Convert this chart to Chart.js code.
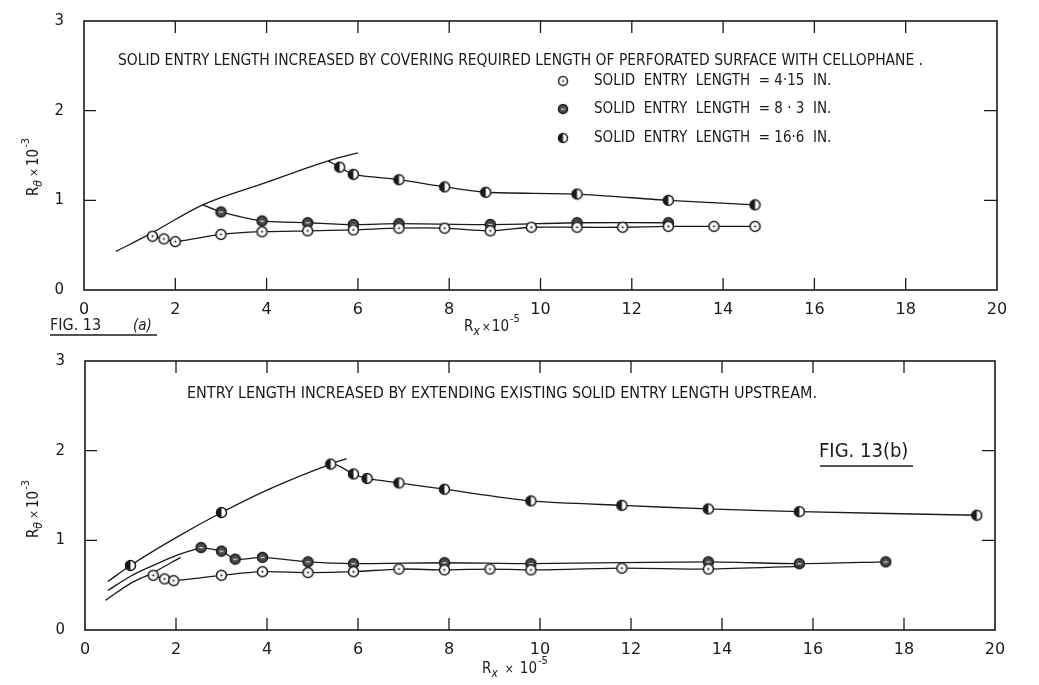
<!DOCTYPE html>
<html>
<head>
<meta charset="utf-8">
<script src="https://cdn.jsdelivr.net/npm/chart.js@4.4.1/dist/chart.umd.min.js"></script>
<style>
  html, body { margin: 0; padding: 0; background: #fff; }
  #wrap { position: relative; width: 1039px; height: 685px; }
  .panel { position: absolute; left: 0; width: 1039px; }
</style>
</head>
<body>
<div id="wrap">
  <div class="panel" style="top:0;height:340px"><canvas id="figA"></canvas></div>
  <div class="panel" style="top:340px;height:345px"><canvas id="figB"></canvas></div>
</div>
<script>
// ---- Fig 13(a): entry length increased by covering with cellophane ----
const aEnvX = [0.7, 1.5, 2.6, 4.0, 5.35, 6.0];
const aEnvY = [0.43, 0.64, 0.95, 1.20, 1.44, 1.53];
const a415X = [1.5, 1.75, 2.0, 3.0, 3.9, 4.9, 5.9, 6.9, 7.9, 8.9, 9.8, 10.8, 11.8, 12.8, 13.8, 14.7];
const a415Y = [0.60, 0.57, 0.54, 0.62, 0.65, 0.66, 0.67, 0.69, 0.69, 0.66, 0.70, 0.70, 0.70, 0.71, 0.71, 0.71];
const a83X = [2.6, 3.0, 3.9, 4.9, 5.9, 6.9, 8.9, 10.8, 12.8];
const a83Y = [0.95, 0.87, 0.77, 0.75, 0.73, 0.74, 0.73, 0.75, 0.75];
const a166X = [5.35, 5.6, 5.9, 6.9, 7.9, 8.8, 10.8, 12.8, 14.7];
const a166Y = [1.44, 1.37, 1.29, 1.23, 1.15, 1.09, 1.07, 1.00, 0.95];

// ---- Fig 13(b): entry length increased by extending solid length upstream ----
const bEnvX = [0.5, 1.0, 2.0, 3.0, 4.0, 5.4, 5.75];
const bEnvY = [0.54, 0.72, 1.03, 1.31, 1.56, 1.85, 1.91];
const bMidX = [0.5, 1.0, 1.5, 2.0, 2.55];
const bMidY = [0.44, 0.60, 0.72, 0.83, 0.92];
const bLowX = [0.45, 1.0, 1.5, 2.1];
const bLowY = [0.33, 0.52, 0.64, 0.81];
const b415X = [1.5, 1.75, 1.95, 3.0, 3.9, 4.9, 5.9, 6.9, 7.9, 8.9, 9.8, 11.8, 13.7, 15.7];
const b415Y = [0.61, 0.57, 0.55, 0.61, 0.65, 0.64, 0.65, 0.68, 0.67, 0.68, 0.67, 0.69, 0.68, 0.71];
const b83X = [2.55, 3.0, 3.3, 3.9, 4.9, 5.9, 7.9, 9.8, 13.7, 15.7, 17.6];
const b83Y = [0.92, 0.88, 0.79, 0.81, 0.76, 0.74, 0.75, 0.74, 0.76, 0.74, 0.76];
const b166X = [1.0, 3.0, 5.4, 5.9, 6.2, 6.9, 7.9, 9.8, 11.8, 13.7, 15.7, 19.6];
const b166Y = [0.72, 1.31, 1.85, 1.74, 1.69, 1.64, 1.57, 1.44, 1.39, 1.35, 1.32, 1.28];

const xTicks = [0, 2, 4, 6, 8, 10, 12, 14, 16, 18, 20];
const yTickLabels = ['0', '1', '2', '3'];
const legendLabels = [
    'SOLID  ENTRY  LENGTH  = 4·15  IN.',
    'SOLID  ENTRY  LENGTH  = 8 · 3  IN.',
    'SOLID  ENTRY  LENGTH  = 16·6  IN.'
];

const INK = '#1a1a1a';
const LETTER = "'Liberation Sans Narrow','DejaVu Sans Condensed','DejaVu Sans',sans-serif";
const DIGIT = "'DejaVu Sans',sans-serif";

// little hand-drawn looking markers
function makeMarker(kind) {
    const c = document.createElement('canvas');
    c.width = 13; c.height = 13;
    const g = c.getContext('2d');
    g.beginPath();
    g.arc(6.5, 6.5, 5, 0, Math.PI * 2);
    g.fillStyle = kind === 'dark' ? '#4a4a4a' : '#fff';
    g.fill();
    if (kind === 'half') {
        g.beginPath();
        g.arc(6.5, 6.5, 5, Math.PI / 2, Math.PI * 1.5);
        g.closePath();
        g.fillStyle = INK;
        g.fill();
    }
    g.beginPath();
    g.arc(6.5, 6.5, 5, 0, Math.PI * 2);
    g.lineWidth = 1.5;
    g.strokeStyle = INK;
    g.stroke();
    if (kind === 'dot') {
        g.beginPath();
        g.arc(6.5, 6.5, 1.1, 0, Math.PI * 2);
        g.fillStyle = INK;
        g.fill();
    }
    if (kind === 'dark') {
        g.fillStyle = '#ddd';
        g.fillRect(4.5, 6, 4, 1.2);
    }
    return c;
}
const mkOpen = makeMarker('dot');
const mkDark = makeMarker('dark');
const mkHalf = makeMarker('half');

function pts(xs, ys) {
    return xs.map((x, i) => ({ x: x, y: ys[i] }));
}

function curve(xs, ys) {
    return {
        data: pts(xs, ys),
        borderColor: INK,
        borderWidth: 1.3,
        pointRadius: 0,
        cubicInterpolationMode: 'monotone',
        order: 2
    };
}

// series with markers; noMark lists indexes drawn without a marker,
// lineFrom hides the line before that index
function series(xs, ys, marker, noMark, lineFrom) {
    return {
        data: pts(xs, ys),
        borderColor: INK,
        borderWidth: 1.3,
        pointStyle: marker,
        pointRadius: xs.map((x, i) => noMark.includes(i) ? 0 : 6),
        tension: 0.25,
        segment: {
            borderColor: ctx => ctx.p0DataIndex < lineFrom ? 'rgba(0,0,0,0)' : INK
        },
        order: 1
    };
}

function text(ctx, s, x, y, font, maxW, align) {
    ctx.font = font;
    ctx.textAlign = align || 'left';
    ctx.textBaseline = 'middle';
    if (maxW) ctx.fillText(s, x, y, maxW); else ctx.fillText(s, x, y);
}

// R_sub x 10^sup, drawn left to right from (x, y) baseline
function richLabel(ctx, sub, sup, x, y, gap) {
    ctx.textBaseline = 'alphabetic';
    ctx.textAlign = 'left';
    ctx.font = '15px ' + LETTER;
    ctx.fillText('R', x, y);
    let cx = x + ctx.measureText('R').width;
    ctx.font = 'italic 12px ' + LETTER;
    ctx.fillText(sub, cx, y + 4);
    cx += ctx.measureText(sub).width + 2 + gap;
    ctx.font = '12px ' + LETTER;
    ctx.fillText('×', cx, y);
    cx += ctx.measureText('×').width + 1 + gap;
    ctx.font = '15px ' + LETTER;
    ctx.fillText('10', cx, y);
    cx += ctx.measureText('10').width + 1;
    ctx.font = '11px ' + LETTER;
    ctx.fillText(sup, cx, y - 9);
}

const framePlugin = {
    id: 'frame',
    afterDatasetsDraw(chart) {
        const ctx = chart.ctx;
        const { left, right, top, bottom } = chart.chartArea;
        const xs = chart.scales.x, ys = chart.scales.y;
        ctx.save();
        ctx.strokeStyle = INK;
        ctx.lineWidth = 1.6;
        ctx.strokeRect(left, top, right - left, bottom - top);
        ctx.lineWidth = 1.3;
        ctx.beginPath();
        xTicks.slice(1, -1).forEach(v => {
            const px = xs.getPixelForValue(v);
            ctx.moveTo(px, top); ctx.lineTo(px, top + 12);
            ctx.moveTo(px, bottom); ctx.lineTo(px, bottom - 12);
        });
        [1, 2].forEach(v => {
            const py = ys.getPixelForValue(v);
            ctx.moveTo(left, py); ctx.lineTo(left + 12, py);
            ctx.moveTo(right, py); ctx.lineTo(right - 13, py);
        });
        ctx.stroke();
        ctx.restore();
    }
};

function makeChart(id, datasets, areaH, xAxisH, rightPad, yAxisW, notes) {
    return new Chart(document.getElementById(id), {
        type: 'line',
        data: { datasets: datasets },
        options: {
            responsive: true,
            maintainAspectRatio: false,
            animation: false,
            events: [],
            layout: { padding: { left: 0, top: 14, right: rightPad, bottom: 0 } },
            plugins: { legend: { display: false }, tooltip: { enabled: false } },
            scales: {
                x: {
                    type: 'linear', min: 0, max: 20,
                    afterBuildTicks: s => { s.ticks = xTicks.map(v => ({ value: v })); },
                    afterFit: s => { s.height = xAxisH; },
                    grid: { display: false },
                    border: { display: false },
                    ticks: { color: INK, font: { family: DIGIT, size: 16 }, padding: 2, maxRotation: 0 }
                },
                y: {
                    type: 'linear', min: 0, max: 3,
                    afterBuildTicks: s => { s.ticks = yTickLabels.map((t, i) => ({ value: i })); },
                    afterFit: s => { s.width = yAxisW; },
                    grid: { display: false },
                    border: { display: false },
                    ticks: {
                        color: INK, font: { family: DIGIT, size: 15 }, padding: 12,
                        callback: v => yTickLabels[v]
                    }
                }
            }
        },
        plugins: [framePlugin, { id: 'notes', afterDraw: c => { c.ctx.save(); c.ctx.fillStyle = INK; c.ctx.strokeStyle = INK; notes(c.ctx); c.ctx.restore(); } }]
    });
}

function yTitle(ctx, cx, cy) {
    ctx.save();
    ctx.translate(cx, cy);
    ctx.rotate(-Math.PI / 2);
    richLabel(ctx, 'θ', '-3', 0, 0, 1);
    ctx.restore();
}

// ---- panel (a) ----
makeChart('figA', [
    curve(aEnvX, aEnvY),
    series(a415X, a415Y, mkOpen, [], 0),
    series(a83X, a83Y, mkDark, [0], 0),
    series(a166X, a166Y, mkHalf, [0], 0)
], 340, 50, 42, 84, ctx => {
    text(ctx, 'SOLID ENTRY LENGTH INCREASED BY COVERING REQUIRED LENGTH OF PERFORATED SURFACE WITH CELLOPHANE .',
        118, 61, '16px ' + LETTER, 805);
    [mkOpen, mkDark, mkHalf].forEach((m, i) => {
        const yy = [81, 109, 138][i];
        ctx.drawImage(m, 557, yy - 6, 12, 12);
        text(ctx, legendLabels[i], 594, yy, '15px ' + LETTER, [267, 264, 264][i]);
    });
    richLabel(ctx, 'x', '-5', 464, 331, 0);
    yTitle(ctx, 38, 196);
    text(ctx, 'FIG. 13', 50, 326, '16px ' + LETTER);
    text(ctx, '(a)', 133, 326, 'italic 15px ' + LETTER);
    ctx.lineWidth = 1.3;
    ctx.beginPath(); ctx.moveTo(50, 335); ctx.lineTo(157, 335); ctx.stroke();
});

// ---- panel (b) ----
makeChart('figB', [
    curve(bEnvX, bEnvY),
    curve(bMidX, bMidY),
    curve(bLowX, bLowY),
    series(b415X, b415Y, mkOpen, [13], 0),
    series(b83X, b83Y, mkDark, [], 0),
    series(b166X, b166Y, mkHalf, [], 2)
], 345, 55, 44, 85, ctx => {
    text(ctx, 'ENTRY LENGTH INCREASED BY EXTENDING EXISTING SOLID ENTRY LENGTH UPSTREAM.',
        187, 54, '16px ' + LETTER, 703);
    text(ctx, 'FIG. 13(b)', 819, 112, '20px ' + LETTER, 96);
    ctx.lineWidth = 1.4;
    ctx.beginPath(); ctx.moveTo(820, 126); ctx.lineTo(913, 126); ctx.stroke();
    richLabel(ctx, 'x', '-5', 482, 333, 5);
    yTitle(ctx, 38, 198);
});
</script>
</body>
</html>
